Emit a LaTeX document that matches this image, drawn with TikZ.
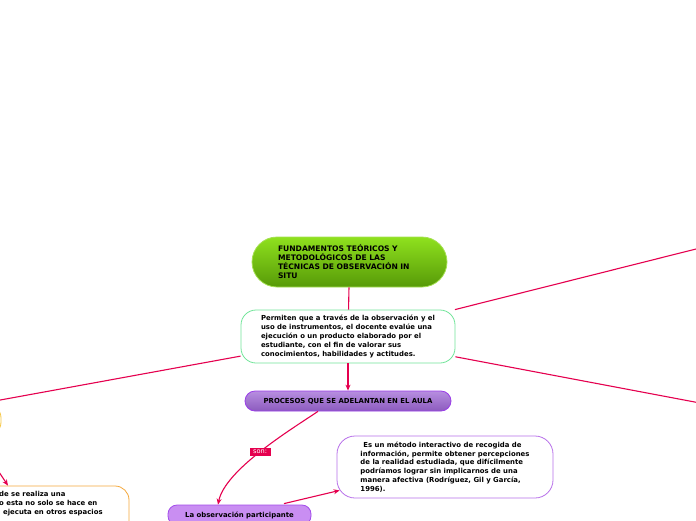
\documentclass[tikz,border=0pt]{standalone}
\usepackage{fontspec}
\setmainfont{DejaVu Sans}
\usetikzlibrary{arrows.meta, positioning, calc}
\definecolor{MapRed}{HTML}{E5004F}
\definecolor{MapGreenTop}{HTML}{8FE11E}
\definecolor{MapGreenBot}{HTML}{579A08}
\definecolor{MapGreenLine}{HTML}{A5E052}
\definecolor{MapMint}{HTML}{72E59A}
\definecolor{MapPurpleTop}{HTML}{B78EE0}
\definecolor{MapPurpleBot}{HTML}{8C5BBE}
\definecolor{MapPurpleLine}{HTML}{9A3DE8}
\definecolor{MapLilac}{HTML}{C98EF2}
\definecolor{MapLilacLine}{HTML}{A24BEB}
\definecolor{MapOrchid}{HTML}{B870EA}
\definecolor{MapOrange}{HTML}{F5A93C}
\definecolor{MapYellow}{HTML}{F6C744}
\tikzset{
    % Text
    maptext/.style={
        font=\fontsize{6.9}{8.8}\selectfont\bfseries,
        text=black
    },
    % Node styles
    mainbox/.style={
        rectangle,
        rounded corners=25pt,
        draw=MapGreenLine,
        line width=0.8pt,
        top color=MapGreenTop,
        bottom color=MapGreenBot,
        minimum width=195pt,
        minimum height=50pt,
        text width=143pt,
        inner xsep=26pt,
        align=left,
        maptext,
        font=\fontsize{7.6}{9}\selectfont\bfseries
    },
    descbox/.style={
        rectangle,
        rounded corners=15pt,
        draw=MapMint,
        line width=0.8pt,
        fill=white,
        minimum width=214pt,
        minimum height=53pt,
        align=left,
        maptext
    },
    procbox/.style={
        rectangle,
        rounded corners=10pt,
        draw=MapPurpleLine,
        line width=0.8pt,
        top color=MapPurpleTop,
        bottom color=MapPurpleBot,
        minimum width=206pt,
        minimum height=20pt,
        align=center,
        maptext
    },
    partbox/.style={
        rectangle,
        rounded corners=9pt,
        draw=MapLilacLine,
        line width=0.8pt,
        fill=MapLilac,
        minimum width=143pt,
        minimum height=20pt,
        align=center,
        maptext
    },
    defbox/.style={
        rectangle,
        rounded corners=18pt,
        draw=MapOrchid,
        line width=0.8pt,
        fill=white,
        minimum width=216pt,
        minimum height=62pt,
        align=left,
        maptext
    },
    sidebox/.style={
        rectangle,
        rounded corners=14pt,
        line width=0.8pt,
        fill=white
    },
    sidetext/.style={
        inner sep=0pt,
        align=left,
        maptext
    },
    sonlabel/.style={
        rectangle,
        fill=MapRed,
        text=white,
        font=\fontsize{6.6}{7}\selectfont,
        inner xsep=3.5pt,
        inner ysep=2.5pt
    },
    % Arrow styles
    myline/.style={
        line width=1.1pt,
        MapRed
    },
    myarrow/.style={
        -{Stealth[length=6pt,width=5pt]},
        line width=1.1pt,
        MapRed
    }
}
\begin{document}
\begin{tikzpicture}[x=1pt, y=-1pt]
    \useasboundingbox[fill=white] (0,0) rectangle (696,520);

    % off-canvas ends
    \coordinate (ne) at (700,248);
    \coordinate (se) at (700,403);
    \coordinate (w) at (-20,403.7);
    \coordinate (izqout) at (-25,436);

    \node[sidebox, draw=MapYellow, minimum width=151pt, minimum height=32pt] (izq) at (-74.5,420) {};
    \node[sidebox, draw=MapOrange, minimum width=242pt, minimum height=54pt] (donde) at (8,513) {};
    \node[sidetext, anchor=north west] (dondetxt) at (-1,491) {de se realiza una\\o esta no solo se hace en\\\hspace*{4pt}ejecuta en otros espacios};

    \node[mainbox] (fund) at (349.5,262) {FUNDAMENTOS TEÓRICOS Y\\METODOLÓGICOS DE LAS\\TÉCNICAS DE OBSERVACIÓN IN\\SITU};
    \node[descbox] (perm) at (348,336.5) {Permiten que a través de la observación y el\\uso de instrumentos, el docente evalúe una\\ejecución o un producto elaborado por el\\estudiante, con el fin de valorar sus\\conocimientos, habilidades y actitudes.};
    \node[procbox] (proc) at (348,401) {PROCESOS QUE SE ADELANTAN EN EL AULA};
    \node[partbox] (part) at (239.5,515) {La observación participante};
    \node[defbox] (metodo) at (445,467) {\hspace*{3pt}Es un método interactivo de recogida de\\información, permite obtener percepciones\\de la realidad estudiada, que difícilmente\\podríamos lograr sin implicarnos de una\\manera afectiva (Rodríguez, Gil y García,\\1996).};

    \draw[myline] (fund) -- (perm);
    \draw[myarrow] (perm) -- (proc);
    \draw[myline] (perm) -- (ne);
    \draw[myline] (perm) -- (se);
    \draw[myline] (perm) -- (w);
    \draw[myarrow] ($(proc.south)+(-30,0)$) .. controls (290,430) and (225,470) .. ($(part.north)+(-21.5,0)$) node[pos=0.5, sonlabel] (son) {son:};
    \draw[myarrow] ($(part.north)+(44.5,-1)$) -- ($(metodo.south west)+(3,-8)$);
    \draw[myarrow] (izqout) -- (donde.north);
\end{tikzpicture}
\end{document}
